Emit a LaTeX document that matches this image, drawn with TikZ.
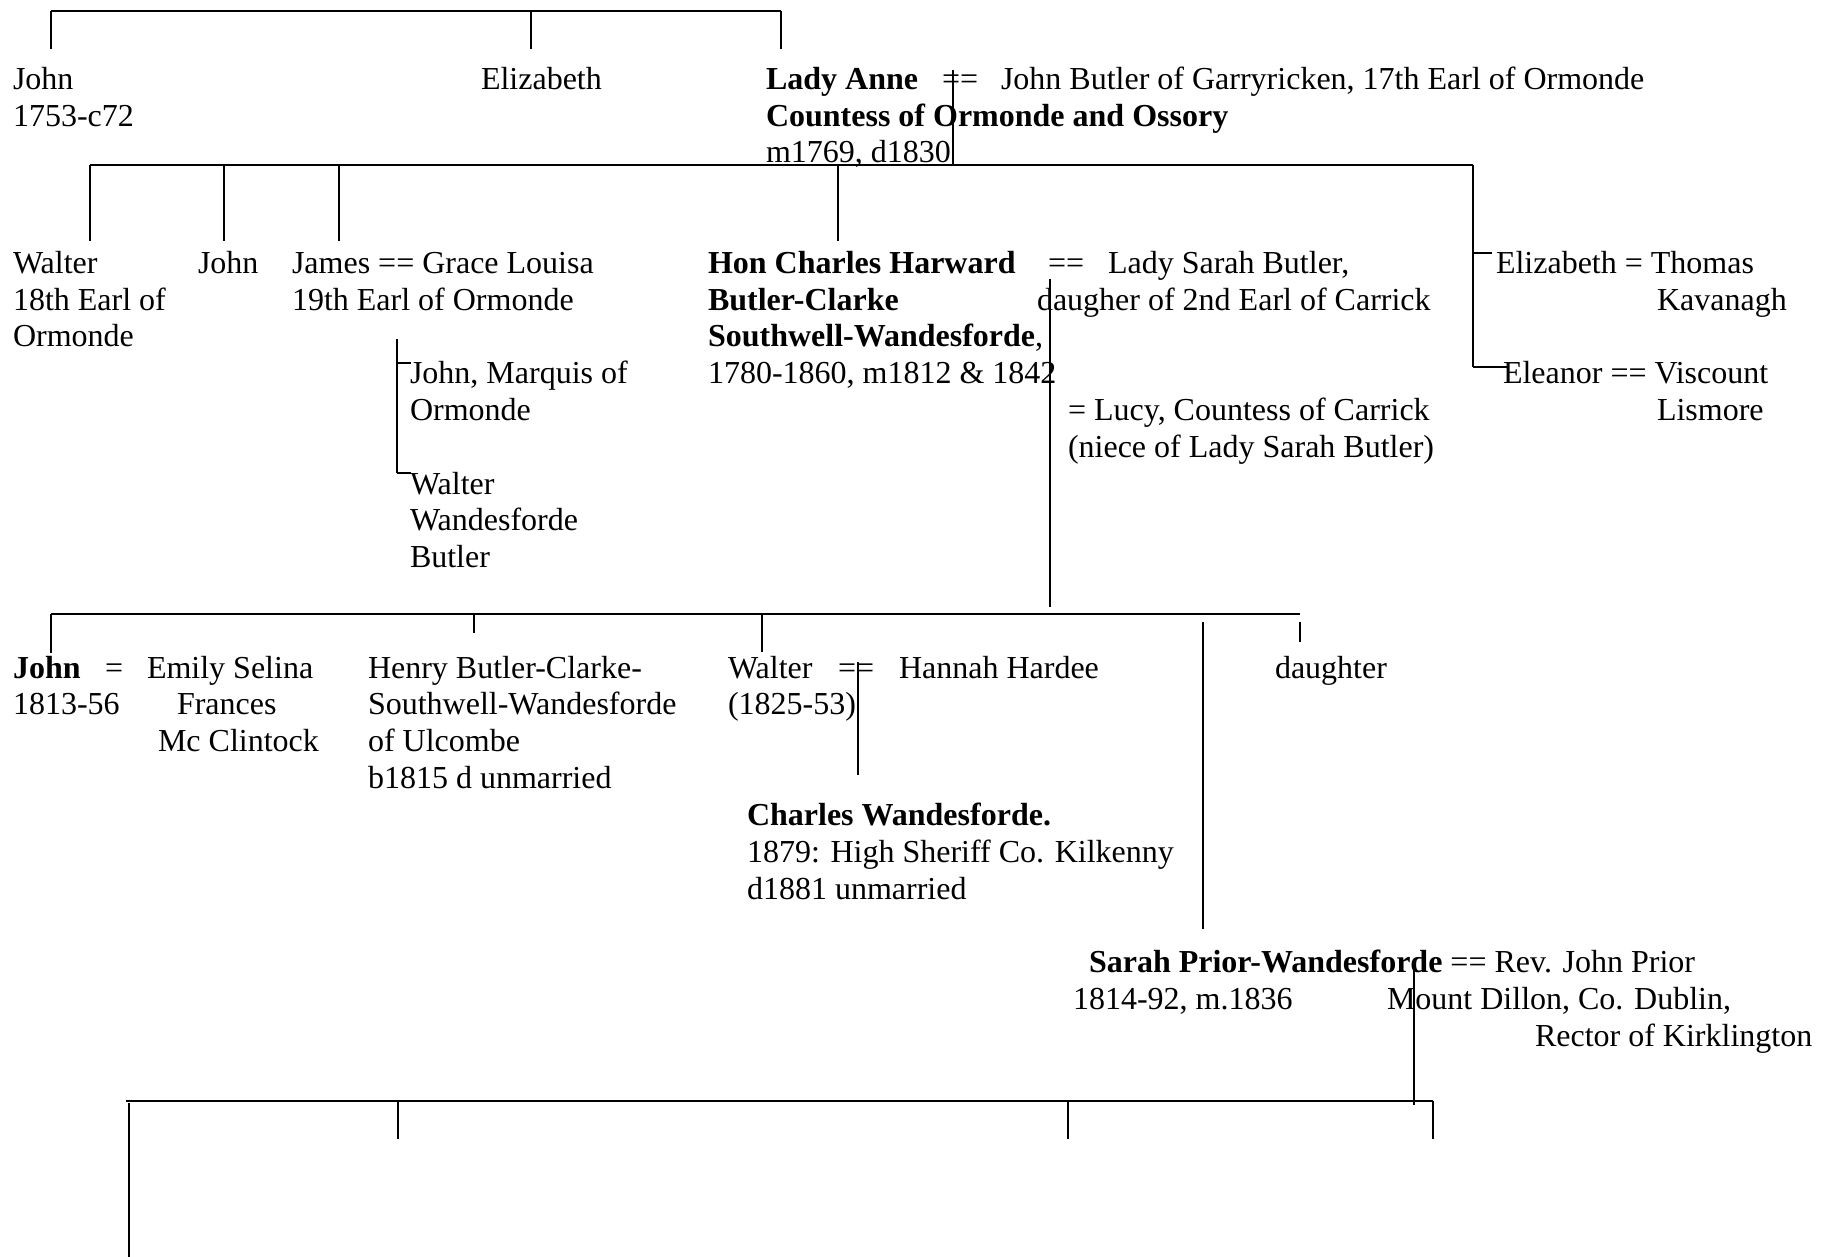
\documentclass[tikz,border=0pt]{standalone}
\usepackage{fontspec}
\setmainfont{Liberation Serif}
\newcommand\ml[1]{\vtop{\baselineskip=13.8pt\lineskiplimit=-20pt #1}}
\newcommand\lh[1]{\hbox{#1}}
\begin{document}
\begin{tikzpicture}[x=0.375pt,y=-0.375pt,
  txt/.style={anchor=base west,inner sep=0pt,outer sep=0pt,yshift=-0.9pt,font=\fontsize{12}{13.8}\selectfont},
  hl/.style={line width=0.8pt},
  vl/.style={line width=0.5pt}]
\useasboundingbox (0,0) rectangle (1834,1257);

% ---------- text ----------
\node[txt] (john1) at (13,87) {\ml{\lh{John}\lh{1753-c72}}};
\node[txt] (eliz1) at (481,87) {Elizabeth};
\node[txt] (anne) at (766,87) {\ml{\lh{\textbf{Lady Anne}}\lh{\textbf{Countess of Ormonde and Ossory}}\lh{m1769, d1830}}};
\node[txt] (anneq) at (942,87) {==};
\node[txt] (jbutler) at (1001,87) {John Butler of Garryricken, 17th Earl of Ormonde};

\node[txt] (walter1) at (13,271) {\ml{\lh{Walter}\lh{18th Earl of}\lh{Ormonde}}};
\node[txt] (john2) at (198,271) {John};
\node[txt] (james) at (292,271) {\ml{\lh{James == Grace Louisa}\lh{19th Earl of Ormonde}}};
\node[txt] (jmarq) at (410,381.4) {\ml{\lh{John, Marquis of}\lh{Ormonde}}};
\node[txt] (wwb) at (410,491.8) {\ml{\lh{Walter}\lh{Wandesforde}\lh{Butler}}};
\node[txt] (charles) at (708,271) {\ml{\lh{\textbf{Hon Charles Harward}}\lh{\textbf{Butler-Clarke}}\lh{\textbf{Southwell-Wandesforde},}\lh{1780-1860, m1812 \& 1842}}};
\node[txt] (chareq) at (1048,271) {==};
\node[txt] (sarahb) at (1108,271) {Lady Sarah Butler,};
\node[txt] (daugher) at (1037,307.8) {daugher of 2nd Earl of Carrick};
\node[txt] (lucy) at (1068,418.2) {\ml{\lh{= Lucy, Countess of Carrick}\lh{(niece of Lady Sarah Butler)}}};
\node[txt] (eliz2) at (1496,271) {Elizabeth = Thomas};
\node[txt] (kav) at (1657,307.8) {Kavanagh};
\node[txt] (elea) at (1503,381.4) {Eleanor == Viscount};
\node[txt] (lism) at (1657,418.2) {Lismore};

\node[txt] (john3) at (13,675.8) {\ml{\lh{\textbf{John}}\lh{1813-56}}};
\node[txt] (johneq) at (105,675.8) {=};
\node[txt] (emily) at (147,675.8) {Emily Selina};
\node[txt] (frances) at (177,712.6) {Frances};
\node[txt] (mccl) at (158,749.4) {Mc Clintock};
\node[txt] (henry) at (368,675.8) {\ml{\lh{Henry Butler-Clarke-}\lh{Southwell-Wandesforde}\lh{of Ulcombe}\lh{b1815 d unmarried}}};
\node[txt] (walter3) at (728,675.8) {\ml{\lh{Walter}\lh{(1825-53)}}};
\node[txt] (waleq) at (838,675.8) {==};
\node[txt] (hannah) at (899,675.8) {Hannah Hardee};
\node[txt] (daughter) at (1275,675.8) {daughter};
\node[txt] (charlesw) at (747,823) {\ml{\lh{\textbf{Charles Wandesforde.}}\lh{1879: High Sheriff Co. Kilkenny}\lh{d1881 unmarried}}};
\node[txt] (sarahp) at (1089,970.2) {\textbf{Sarah Prior-Wandesforde} == Rev. John Prior};
\node[txt] (sarahd) at (1073,1007) {1814-92, m.1836};
\node[txt] (mount) at (1387,1007) {Mount Dillon, Co. Dublin,};
\node[txt] (rector) at (1535,1043.8) {Rector of Kirklington};

% ---------- connector points ----------
\coordinate (t1) at (51,11);   \coordinate (t1d) at (51,49);
\coordinate (t2) at (531,11);  \coordinate (t2d) at (531,49);
\coordinate (t3) at (781,11);  \coordinate (t3d) at (781,49);
\coordinate (am1) at (953,70); \coordinate (am2) at (953,165);
\coordinate (s1) at (90,165);  \coordinate (s1d) at (90,241);
\coordinate (s2) at (224,165); \coordinate (s2d) at (224,241);
\coordinate (s3) at (339,165); \coordinate (s3d) at (339,241);
\coordinate (s4) at (838,165); \coordinate (s4d) at (838,241);
\coordinate (s5) at (1473,165);
\coordinate (e1) at (1473,253); \coordinate (e1r) at (1492,253);
\coordinate (e2) at (1473,367); \coordinate (e2r) at (1508,367);
\coordinate (jm0) at (397,339);
\coordinate (jm1) at (397,363); \coordinate (jm1r) at (411,363);
\coordinate (jm2) at (397,473); \coordinate (jm2r) at (411,473);
\coordinate (cm1) at (1050,279); \coordinate (cm2) at (1050,607);
\coordinate (r1) at (51,614);  \coordinate (r1d) at (51,653);
\coordinate (r2) at (474,614); \coordinate (r2d) at (474,633);
\coordinate (r3) at (762,614); \coordinate (r3d) at (762,652);
\coordinate (r4) at (1300,614);
\coordinate (d1) at (1300,622); \coordinate (d2) at (1300,642);
\coordinate (sp1) at (1203,622); \coordinate (sp2) at (1203,929);
\coordinate (wm1) at (858,662); \coordinate (wm2) at (858,775);
\coordinate (pm1) at (1414,970); \coordinate (pm2) at (1414,1105);
\coordinate (b0) at (126,1101);
\coordinate (b1) at (129,1103); \coordinate (b1d) at (129,1257);
\coordinate (b2) at (398,1101); \coordinate (b2d) at (398,1139);
\coordinate (b3) at (1068,1101); \coordinate (b3d) at (1068,1139);
\coordinate (b4) at (1433,1101); \coordinate (b4d) at (1433,1139);

% ---------- connectors ----------
\draw[hl] (t1) -- (t3);
\draw[vl] (t1) -- (t1d);
\draw[vl] (t2) -- (t2d);
\draw[vl] (t3) -- (t3d);
\draw[vl] (am1) -- (am2);
\draw[hl] (s1) -- (s5);
\draw[vl] (s1) -- (s1d);
\draw[vl] (s2) -- (s2d);
\draw[vl] (s3) -- (s3d);
\draw[vl] (s4) -- (s4d);
\draw[vl] (s5) -- (e2);
\draw[vl] (e1) -- (e1r);
\draw[vl] (e2) -- (e2r);
\draw[vl] (jm0) -- (jm2);
\draw[vl] (jm1) -- (jm1r);
\draw[vl] (jm2) -- (jm2r);
\draw[vl] (cm1) -- (cm2);
\draw[hl] (r1) -- (r4);
\draw[vl] (r1) -- (r1d);
\draw[vl] (r2) -- (r2d);
\draw[vl] (r3) -- (r3d);
\draw[vl] (d1) -- (d2);
\draw[vl] (sp1) -- (sp2);
\draw[vl] (wm1) -- (wm2);
\draw[vl] (pm1) -- (pm2);
\draw[hl] (b0) -- (b4);
\draw[vl] (b1) -- (b1d);
\draw[vl] (b2) -- (b2d);
\draw[vl] (b3) -- (b3d);
\draw[vl] (b4) -- (b4d);
\end{tikzpicture}
\end{document}
